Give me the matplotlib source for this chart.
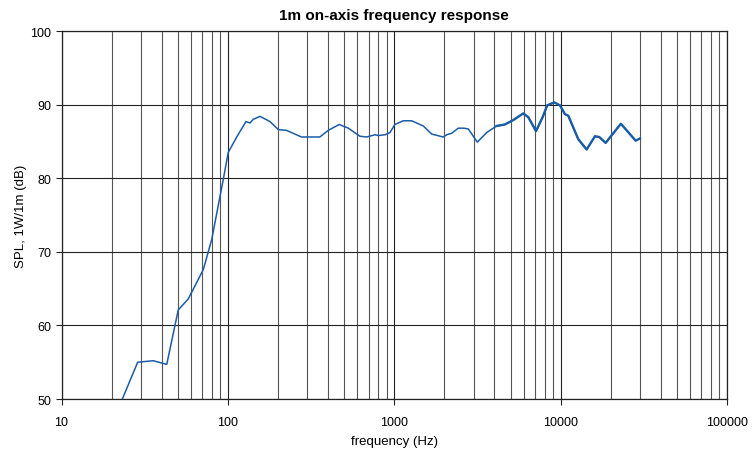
import numpy as np
import matplotlib.pyplot as plt

plt.rcParams['font.family'] = ['Liberation Sans', 'DejaVu Sans']

# measured on-axis response (frequency in Hz, SPL in dB)
freq = [20, 28.7, 35.6, 42.9, 50.3, 57.8, 71.2, 80, 93.9, 100.5, 113, 128.5,
        135.8, 142, 156, 179, 201, 225, 277, 357, 401, 467, 529, 622, 682,
        765, 801, 879, 942, 1009, 1132, 1273, 1494, 1678, 1969, 2064, 2212,
        2425, 2599, 2786, 3155, 3592, 4124, 4625, 5190, 5960, 6386, 7110,
        7796, 8305, 9155, 9903, 10610, 11110, 12760, 14330, 16070, 17060,
        18630, 23020, 28230, 29950]
spl = [46.5, 55.0, 55.2, 54.7, 62.1, 63.6, 67.6, 71.7, 79.9, 83.5, 85.6, 87.7,
       87.5, 88.0, 88.4, 87.7, 86.6, 86.5, 85.6, 85.6, 86.5, 87.3, 86.8, 85.7,
       85.6, 85.9, 85.8, 85.9, 86.2, 87.3, 87.8, 87.8, 87.1, 86.0, 85.6, 85.9,
       86.1, 86.8, 86.8, 86.7, 84.9, 86.2, 87.1, 87.3, 87.9, 88.8, 88.3, 86.4,
       88.3, 89.9, 90.3, 89.9, 88.7, 88.5, 85.3, 83.9, 85.7, 85.6,
       84.8, 87.4, 85.1, 85.4]

xticks = [10, 100, 1000, 10000, 100000]
yticks = [50, 60, 70, 80, 90, 100]

fig = plt.figure(figsize=(7.52, 4.56), dpi=100)
ax = fig.add_axes([0.0818, 0.1228, 0.885, 0.807])

ax.semilogx(freq, spl, color='#1a5ca8', lw=1.1, zorder=3)
# the measurement gets denser (thicker looking) at the top end
f = np.array(freq)
hi = f >= 4000
ax.semilogx(f[hi], np.array(spl)[hi], color='#1a5ca8', lw=1.7, zorder=3)

ax.set_xlim(10, 100000)
ax.set_ylim(50, 100)
ax.set_xticks(xticks)
ax.set_xticklabels([str(t) for t in xticks])
ax.set_yticks(yticks)
ax.xaxis.set_minor_locator(plt.matplotlib.ticker.LogLocator(base=10, subs=np.arange(2, 10)))
ax.xaxis.set_minor_formatter(plt.NullFormatter())

ax.grid(True, which='major', color='#222222', lw=0.8)
ax.grid(True, which='minor', axis='x', color='#555555', lw=0.8)
ax.tick_params(which='major', direction='out', length=4, labelsize=9, color='#222222')
ax.tick_params(which='minor', length=0)
ax.tick_params(axis='x', pad=8)

for s in ax.spines.values():
    s.set_color('#222222')
    s.set_linewidth(0.9)

ax.set_title('1m on-axis frequency response', fontsize=11, fontweight='bold', pad=9)
ax.set_xlabel('frequency (Hz)', fontsize=9.5, labelpad=5)
ax.set_ylabel('SPL, 1W/1m (dB)', fontsize=9.5, labelpad=2)

fig.savefig('out.png', dpi=100)
